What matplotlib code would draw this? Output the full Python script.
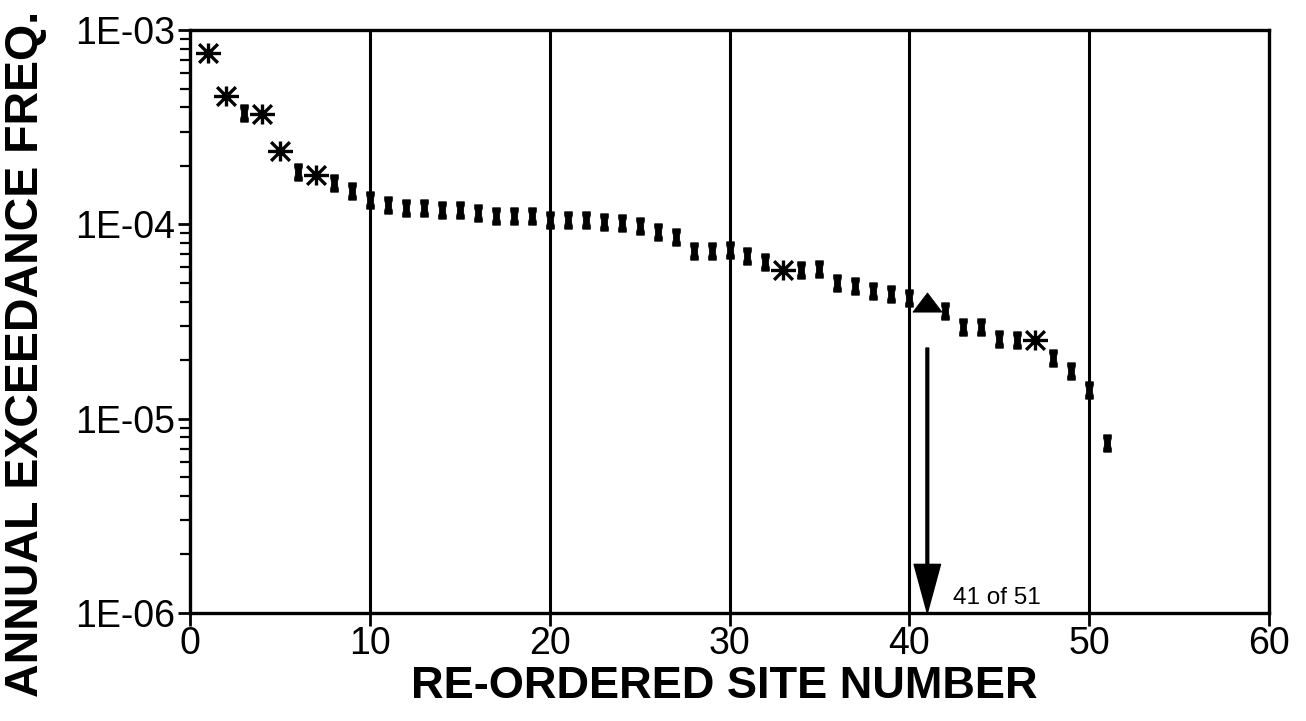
import numpy as np
import matplotlib
matplotlib.use("Agg")
import matplotlib.pyplot as plt
from matplotlib.path import Path
from matplotlib.ticker import FixedLocator, LogLocator, NullFormatter

plt.rcParams['font.family'] = ['Liberation Sans', 'DejaVu Sans']

# Annual exceedance frequency for each re-ordered site (1..51)
sites = list(range(1, 52))
freq = [
    7.6e-4, 4.6e-4, 3.73e-4, 3.70e-4, 2.39e-4, 1.86e-4, 1.79e-4, 1.63e-4, 1.49e-4, 1.33e-4,
    1.26e-4, 1.22e-4, 1.21e-4, 1.19e-4, 1.19e-4, 1.14e-4, 1.11e-4, 1.11e-4, 1.11e-4, 1.05e-4,
    1.05e-4, 1.05e-4, 1.03e-4, 1.01e-4, 9.8e-5, 9.16e-5, 8.57e-5, 7.31e-5, 7.31e-5, 7.38e-5,
    6.87e-5, 6.43e-5, 5.82e-5, 5.82e-5, 5.87e-5, 4.97e-5, 4.83e-5, 4.55e-5, 4.36e-5, 4.19e-5,
    3.98e-5, 3.58e-5, 2.97e-5, 2.97e-5, 2.56e-5, 2.54e-5, 2.54e-5, 2.04e-5, 1.76e-5, 1.40e-5,
    7.52e-6,
]
# Sites drawn with an asterisk; the highlighted site gets a triangle
star_sites = [1, 2, 4, 5, 7, 33, 47]
highlight_site = 41
total_sites = 51

arrow_top = 2.31e-5
xticks = [0, 10, 20, 30, 40, 50, 60]
yticks = [1e-6, 1e-5, 1e-4, 1e-3]
ytick_labels = ["1E-06", "1E-05", "1E-04", "1E-03"]

# Custom marker shapes
bar_marker = Path([(-0.22, -0.5), (0.22, -0.5), (0.22, -0.3), (0.17, -0.1), (0.17, 0.1),
                   (0.22, 0.3), (0.22, 0.5), (-0.22, 0.5), (-0.22, 0.3), (-0.17, 0.1),
                   (-0.17, -0.1), (-0.22, -0.3), (-0.22, -0.5)])
star_verts = [(-1, 0), (1, 0), (-0.75, -0.75), (0.75, 0.75), (-0.75, 0.75), (0.75, -0.75),
              (0, -0.8), (0, 0.8)]
star_codes = [Path.MOVETO, Path.LINETO] * 4
star_marker = Path(star_verts, star_codes)
tri_marker = Path([(-1, -0.66), (1, -0.66), (0, 0.66), (-1, -0.66)])

fig = plt.figure(figsize=(13.06, 7.21), dpi=100)
ax = fig.add_axes([190 / 1306, 1 - 613 / 721, (1269 - 190) / 1306, (613 - 30) / 721])

ax.set_yscale('log')
ax.set_xlim(0, 60)
ax.set_ylim(1e-6, 1e-3)

# vertical reference lines
for xv in xticks[1:-1]:
    ax.axvline(xv, color='black', lw=2.2, zorder=1)

bar_x = [s for s in sites if s not in star_sites and s != highlight_site]
bar_y = [freq[s - 1] for s in bar_x]
star_x = list(star_sites)
star_y = [freq[s - 1] for s in star_x]

ax.plot(bar_x, bar_y, linestyle='none', marker=bar_marker, markersize=12.5,
        color='black', mew=0.6, zorder=3)
ax.plot(star_x, star_y, linestyle='none', marker=star_marker, markersize=18,
        color='black', mew=2.4, fillstyle='none', zorder=3)
ax.plot([highlight_site], [freq[highlight_site - 1]], linestyle='none',
        marker=tri_marker, markersize=21, color='black', mew=0.5, zorder=3)

# arrow pointing down to the highlighted site on the axis
ax.annotate('', xy=(highlight_site, 1e-6), xytext=(highlight_site, arrow_top),
            arrowprops=dict(facecolor='black', edgecolor='black', width=2.0,
                            headwidth=19, headlength=35, shrink=0),
            zorder=4, annotation_clip=False)
ax.text(highlight_site + 1.45, 1.19e-6, f"{highlight_site} of {total_sites}",
        fontsize=17.5, ha='left', va='center')

# axes styling
for sp in ax.spines.values():
    sp.set_linewidth(2.4)
ax.xaxis.set_major_locator(FixedLocator(xticks))
ax.set_xticklabels([str(v) for v in xticks])
ax.yaxis.set_major_locator(FixedLocator(yticks))
ax.set_yticklabels(ytick_labels)
ax.yaxis.set_minor_locator(LogLocator(base=10, subs=np.arange(2, 10)))
ax.yaxis.set_minor_formatter(NullFormatter())
ax.tick_params(axis='both', which='major', direction='out', length=9, width=2,
               labelsize=27, pad=1.5, color='black')
ax.tick_params(axis='y', which='minor', direction='out', length=7, width=1.6)
ax.tick_params(axis='x', which='major', pad=0)

fig.text(724 / 1306, 1 - 687 / 721, "RE-ORDERED SITE NUMBER", fontsize=32.5,
         fontweight='bold', ha='center', va='center')
fig.text(26 / 1306, 1 - 354 / 721, "ANNUAL EXCEEDANCE FREQ.", fontsize=33.5,
         fontweight='bold', ha='center', va='center', rotation=90)

fig.savefig("out.png", dpi=100, facecolor='white')
